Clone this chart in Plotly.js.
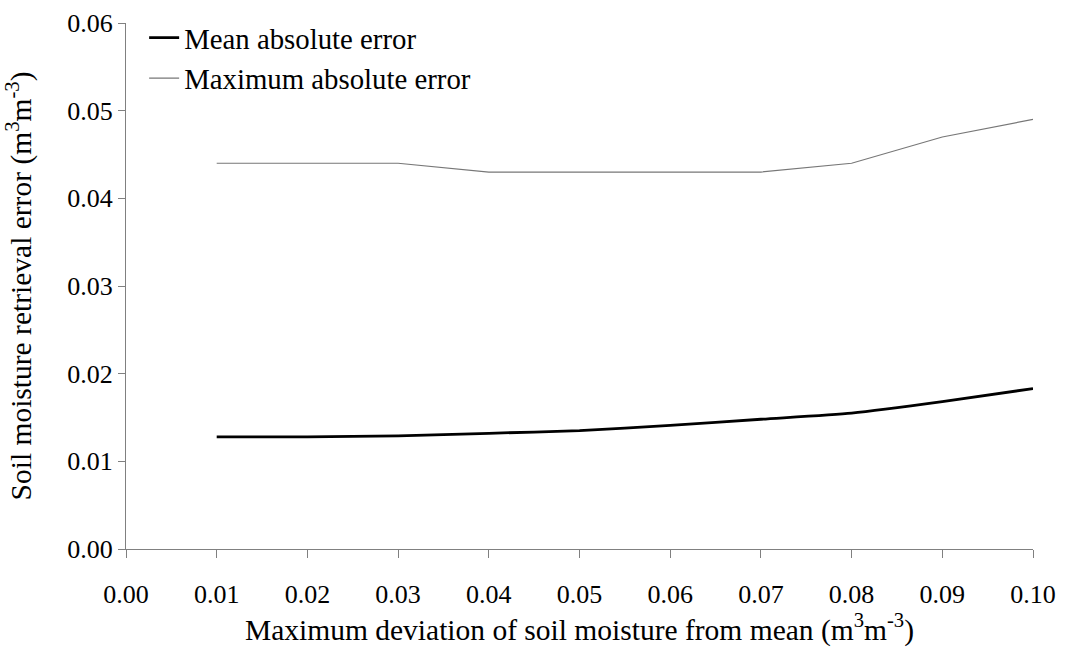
<!DOCTYPE html>
<html><head><meta charset="utf-8">
<script src="https://cdn.plot.ly/plotly-3.0.1.min.js"></script>
<style>html,body{margin:0;padding:0;background:#fff}#chart{width:1065px;height:655px}</style>
</head><body><div id="chart"></div>
<script>
const deviation = [0.01,0.02,0.03,0.04,0.05,0.06,0.07,0.08,0.09,0.10];
const meanAbsErr = [0.0128,0.0128,0.0129,0.0132,0.0135,0.0141,0.0148,0.0155,0.0168,0.0183];
const maxAbsErr = [0.044,0.044,0.044,0.043,0.043,0.043,0.043,0.044,0.047,0.049];
const seriesNames = ['Mean absolute error','Maximum absolute error'];
const xTicks = [0,0.01,0.02,0.03,0.04,0.05,0.06,0.07,0.08,0.09,0.10];
const yTicks = [0,0.01,0.02,0.03,0.04,0.05,0.06];

const font = {family:'Liberation Serif, Times New Roman, serif', color:'#000'};
const f = s => Object.assign({size:s}, font);
const traces = [
  {x:deviation, y:meanAbsErr, name:seriesNames[0], mode:'lines', line:{color:'#000', width:2.8, shape:'spline', smoothing:0.6}},
  {x:deviation, y:maxAbsErr, name:seriesNames[1], mode:'lines', line:{color:'#777', width:1.2}}
];
const layout = {
  width:1065, height:655,
  margin:{l:126, r:32, t:20, b:106},
  paper_bgcolor:'#fff', plot_bgcolor:'#fff',
  font:f(26),
  showlegend:true,
  legend:{x:0.02, y:1.02, xanchor:'left', yanchor:'top', bgcolor:'rgba(0,0,0,0)', font:f(28.8), itemwidth:30, tracegroupgap:0},
  xaxis:{range:[0,0.10], tickvals:xTicks, ticktext:xTicks.map(v=>v.toFixed(2)), showgrid:false, zeroline:false,
    showline:true, linecolor:'#808080', linewidth:1, ticks:'outside', ticklen:8, tickcolor:'#808080',
    tickfont:f(26), ticklabelstandoff:14,
    title:{text:'Maximum deviation of soil moisture from mean (m<sup>3</sup>m<sup>-3</sup>)', font:f(29.5), standoff:8}},
  yaxis:{range:[0,0.06], tickvals:yTicks, ticktext:yTicks.map(v=>v.toFixed(2)), showgrid:false, zeroline:false,
    showline:true, linecolor:'#808080', linewidth:1, ticks:'outside', ticklen:7, tickcolor:'#808080',
    tickfont:f(26),
    title:{text:'Soil moisture retrieval error (m<sup>3</sup>m<sup>-3</sup>)', font:f(29.5), standoff:26}}
};
Plotly.newPlot('chart', traces, layout, {staticPlot:true, displayModeBar:false});
</script></body></html>
